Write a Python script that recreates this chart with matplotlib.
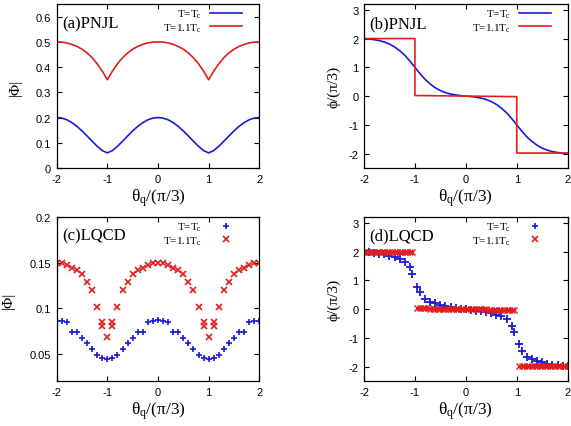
import numpy as np
import matplotlib
matplotlib.use('Agg')
import matplotlib.pyplot as plt
from matplotlib.lines import Line2D

# --- data ---
theta = np.linspace(-2, 2, 41)

# (a) PNJL |Phi|
pnjl_abs_tc = [0.200, 0.198, 0.191, 0.180, 0.165, 0.147, 0.127, 0.106, 0.086, 0.069, 0.060,
               0.069, 0.086, 0.106, 0.127, 0.147, 0.165, 0.180, 0.191, 0.198, 0.200,
               0.198, 0.191, 0.180, 0.165, 0.147, 0.127, 0.106, 0.086, 0.069, 0.060,
               0.069, 0.086, 0.106, 0.127, 0.147, 0.165, 0.180, 0.191, 0.198, 0.200]
pnjl_abs_11 = [0.500, 0.499, 0.496, 0.490, 0.482, 0.471, 0.456, 0.437, 0.413, 0.384, 0.350,
               0.384, 0.413, 0.437, 0.456, 0.471, 0.482, 0.490, 0.496, 0.499, 0.500,
               0.499, 0.496, 0.490, 0.482, 0.471, 0.456, 0.437, 0.413, 0.384, 0.350,
               0.384, 0.413, 0.437, 0.456, 0.471, 0.482, 0.490, 0.496, 0.499, 0.500]

# (b) PNJL phase
pnjl_phase_tc = [2.00, 1.985, 1.96, 1.93, 1.88, 1.81, 1.71, 1.58, 1.42, 1.22, 1.00,
                 0.78, 0.58, 0.42, 0.29, 0.19, 0.12, 0.07, 0.04, 0.015, 0.00,
                 -0.015, -0.04, -0.07, -0.12, -0.19, -0.29, -0.42, -0.58, -0.78, -1.00,
                 -1.22, -1.42, -1.58, -1.71, -1.81, -1.88, -1.93, -1.96, -1.985, -2.00]
step_x = [-2, -1, -1, 1, 1, 2]
pnjl_phase_11 = [2.0, 2.0, 0.02, -0.02, -1.98, -1.98]

# (c) LQCD |Phi|
lqcd_abs_tc = [0.086, 0.086, 0.085, 0.074, 0.074, 0.067, 0.062, 0.055, 0.049, 0.045, 0.044,
               0.045, 0.049, 0.055, 0.062, 0.067, 0.074, 0.074, 0.085, 0.086, 0.087,
               0.086, 0.085, 0.074, 0.074, 0.067, 0.062, 0.055, 0.049, 0.045, 0.044,
               0.045, 0.049, 0.055, 0.062, 0.067, 0.074, 0.074, 0.085, 0.086, 0.086]
lqcd_x_11 = [-2.0, -1.9, -1.8, -1.7, -1.6, -1.5, -1.4, -1.3, -1.2, -1.1, -1.1, -1.0, -0.9, -0.9,
             -0.8, -0.7, -0.6, -0.5, -0.4, -0.3, -0.2, -0.1, 0.0, 0.1, 0.2, 0.3, 0.4, 0.5,
             0.6, 0.7, 0.8, 0.9, 0.9, 1.0, 1.1, 1.1, 1.2, 1.3, 1.4, 1.5, 1.6, 1.7, 1.8, 1.9, 2.0]
lqcd_abs_11 = [0.150, 0.150, 0.1475, 0.1435, 0.1416, 0.138, 0.129, 0.120, 0.1017, 0.085, 0.080,
               0.068, 0.085, 0.080, 0.1017, 0.120, 0.129, 0.138, 0.1416, 0.1435, 0.1475, 0.150,
               0.150, 0.150, 0.1475, 0.1435, 0.1416, 0.138, 0.129, 0.120, 0.1017, 0.085, 0.080,
               0.068, 0.085, 0.080, 0.1017, 0.120, 0.129, 0.138, 0.1416, 0.1435, 0.1475, 0.150, 0.150]

# (d) LQCD phase
lqcd_x_tc = [-2.0, -1.9, -1.8, -1.7, -1.6, -1.5, -1.4, -1.3, -1.2, -1.1, -1.05, -0.95, -0.9,
             -0.8, -0.7, -0.6, -0.5, -0.4, -0.3, -0.2, -0.1, 0.0, 0.1, 0.2, 0.3, 0.4, 0.5,
             0.6, 0.7, 0.8, 0.9, 0.95, 1.05, 1.1, 1.2, 1.3, 1.4, 1.5, 1.6, 1.7, 1.8, 1.9, 2.0]
lqcd_phase_tc = [1.99, 1.97, 1.95, 1.93, 1.90, 1.85, 1.80, 1.74, 1.65, 1.45, 1.22, 0.78, 0.58,
                 0.35, 0.25, 0.20, 0.14, 0.09, 0.06, 0.05, 0.02, 0.01, -0.02, -0.05, -0.06,
                 -0.09, -0.14, -0.20, -0.25, -0.35, -0.58, -0.78, -1.22, -1.45, -1.65, -1.74,
                 -1.80, -1.85, -1.90, -1.93, -1.95, -1.97, -1.99]
# T=1.1Tc points are 0.05 apart in three plateaus
lqcd_x_11d = np.round(np.concatenate([np.arange(-2.0, -1.0, 0.05),
                                      np.arange(-0.95, 0.96, 0.05),
                                      np.arange(1.05, 2.01, 0.05)]), 2)
lqcd_phase_11 = [2.0, 2.0, 2.0, 2.0, 2.0, 2.0, 2.0, 2.0, 2.0, 2.0,
                 2.0, 2.0, 2.0, 2.0, 2.0, 2.0, 2.0, 2.0, 2.0, 2.0,
                 0.03, 0.03, 0.03, 0.03, 0.03, 0.02, 0.02, 0.02, 0.02, 0.02,
                 0.02, 0.01, 0.01, 0.01, 0.01, 0.01, 0.01, 0.0, 0.0, 0.0,
                 0.0, 0.0, -0.01, -0.01, -0.01, -0.01, -0.01, -0.01, -0.02, -0.02,
                 -0.02, -0.02, -0.02, -0.02, -0.03, -0.03, -0.03, -0.03, -0.03,
                 -1.97, -1.97, -1.97, -1.97, -1.97, -1.97, -1.97, -1.97, -1.97, -1.97,
                 -1.97, -1.97, -1.97, -1.97, -1.97, -1.97, -1.97, -1.97, -1.97, -1.97]

blue = '#1a1adc'
red = '#e01e1e'
serif = ['Liberation Serif', 'DejaVu Serif']

plt.rcParams['font.family'] = ['Liberation Sans', 'DejaVu Sans']
plt.rcParams['axes.unicode_minus'] = False
plt.rcParams['mathtext.fontset'] = 'custom'
plt.rcParams['mathtext.rm'] = 'Liberation Serif'
plt.rcParams['mathtext.it'] = 'Liberation Serif'

fig = plt.figure(figsize=(5.71, 4.27), dpi=100)
ax_a = fig.add_axes([0.0993, 0.6042, 0.3548, 0.384])
ax_b = fig.add_axes([0.6375, 0.6042, 0.3567, 0.384])
ax_c = fig.add_axes([0.0993, 0.1054, 0.3548, 0.384])
ax_d = fig.add_axes([0.6375, 0.1054, 0.3567, 0.384])

lab_tc = r'T=T$_\mathrm{c}$'
lab_11 = r'T=1.1T$_\mathrm{c}$'
xlab = r'θ$_\mathrm{q}$/(π/3)'

def style(ax, ylabel, ylx, panel):
    ax.set_xlim(-2, 2)
    ax.set_xticks([-2, -1, 0, 1, 2])
    ax.tick_params(direction='in', top=True, right=True, length=3.5, width=0.8,
                   labelsize=8, pad=4)
    for s in ax.spines.values():
        s.set_linewidth(0.9)
    ax.text(0.5, -0.18, xlab, transform=ax.transAxes, ha='center', va='center',
            family=serif, fontsize=12.5)
    ax.text(ylx, 0.5, ylabel, transform=ax.transAxes, ha='center', va='center',
            rotation=90, family=serif, fontsize=11)
    ax.text(0.025, 0.885, panel, transform=ax.transAxes, ha='left', va='center',
            family=serif, fontsize=12)

# (a)
ax_a.plot(theta, pnjl_abs_tc, color=blue, lw=1.2)
ax_a.plot(theta, pnjl_abs_11, color=red, lw=1.2)
ax_a.set_ylim(0, 0.65)
ax_a.set_yticks([0, 0.1, 0.2, 0.3, 0.4, 0.5, 0.6])
ax_a.set_yticklabels(['0', '0.1', '0.2', '0.3', '0.4', '0.5', '0.6'])
style(ax_a, '|Φ|', -0.205, '(a)PNJL')

# (b)
ax_b.plot(theta, pnjl_phase_tc, color=blue, lw=1.2)
ax_b.plot(step_x, pnjl_phase_11, color=red, lw=1.2)
ax_b.set_ylim(-2.5, 3.2)
ax_b.set_yticks([-2, -1, 0, 1, 2, 3])
style(ax_b, 'ϕ/(π/3)', -0.147, '(b)PNJL')

# (c)
ax_c.plot(theta, lqcd_abs_tc, ls='none', marker='+', ms=5, mew=1.2, color=blue)
ax_c.plot(lqcd_x_11, lqcd_abs_11, ls='none', marker='x', ms=4.5, mew=1.2, color=red)
ax_c.set_ylim(0.02, 0.2)
ax_c.set_yticks([0.05, 0.1, 0.15, 0.2])
ax_c.set_yticklabels(['0.05', '0.1', '0.15', '0.2'])
style(ax_c, '|Φ|', -0.24, '(c)LQCD')

# (d)
ax_d.plot(lqcd_x_tc, lqcd_phase_tc, ls='none', marker='+', ms=5.5, mew=1.3, color=blue)
ax_d.plot(lqcd_x_11d, lqcd_phase_11, ls='none', marker='x', ms=4, mew=1.0, color=red)
ax_d.set_ylim(-2.5, 3.2)
ax_d.set_yticks([-2, -1, 0, 1, 2, 3])
style(ax_d, 'ϕ/(π/3)', -0.147, '(d)LQCD')

# gnuplot-style legends: text on the left, sample on the right
line_handles = [Line2D([], [], color=blue, lw=1.2), Line2D([], [], color=red, lw=1.2)]
pt_handles = [Line2D([], [], ls='none', marker='+', ms=5, mew=1.2, color=blue),
              Line2D([], [], ls='none', marker='x', ms=4.5, mew=1.2, color=red)]
for ax, hs in [(ax_a, line_handles), (ax_b, line_handles),
               (ax_c, pt_handles), (ax_d, pt_handles)]:
    ax.legend(hs, [lab_tc, lab_11], loc='upper right', bbox_to_anchor=(0.955, 1.025),
              frameon=False, markerfirst=False, handlelength=2.9, handletextpad=0.7,
              labelspacing=0.1, numpoints=1, borderaxespad=0.3,
              prop={'family': serif, 'size': 8})

fig.savefig('out.png', dpi=100)
